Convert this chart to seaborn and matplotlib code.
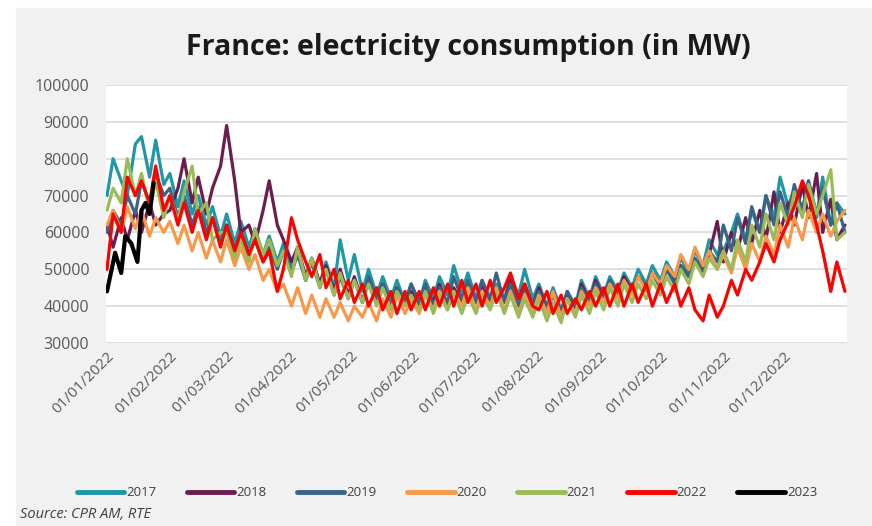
import matplotlib
matplotlib.use("Agg")
import matplotlib.pyplot as plt
import matplotlib.dates as mdates
from matplotlib.patches import Rectangle
from matplotlib.ticker import FuncFormatter, MultipleLocator
import numpy as np
import pandas as pd
import seaborn as sns

sns.set_theme(style="white")
plt.rcParams["font.family"] = ["Open Sans", "DejaVu Sans"]

# --- data: consommation en milliers de MW, 2 points par semaine ---
base = pd.Timestamp("2022-01-01")
jours = [7 * (i // 2) + 3 * (i % 2) for i in range(104)] + [364]

y2017 = [70, 80, 74, 70, 84, 86, 75, 85, 73,
         76, 67, 74, 65, 70, 62, 67, 59,
         65, 57, 63, 56, 61, 54, 59, 52, 57,
         50, 55, 47, 53, 46, 52, 45, 58, 47,
         54, 44, 50, 43, 48, 42, 47, 41, 46,
         41, 47, 42, 48, 43, 51, 44, 49,
         42, 47, 41, 46, 42, 48, 43, 50, 42,
         46, 40, 45, 39, 44, 40, 47, 42, 48,
         43, 48, 44, 49, 45, 50, 46, 51,
         47, 52, 48, 53, 49, 55, 51, 58, 54,
         55, 60, 65, 58, 66, 60, 70, 64,
         75, 67, 72, 66, 74, 64, 75, 62, 68, 65]
y2018 = [62, 56, 64, 58, 66, 60, 68, 62, 65,
         66, 72, 80, 68, 75, 65, 72, 78,
         89, 74, 60, 62, 57, 66, 74, 62, 58,
         52, 56, 48, 53, 46, 51, 44, 50, 43,
         48, 41, 47, 42, 46, 40, 45, 41, 44,
         40, 45, 41, 46, 40, 45, 41, 46,
         41, 46, 40, 45, 41, 47, 42, 46, 40,
         45, 39, 44, 38, 43, 39, 46, 41, 47,
         42, 47, 43, 48, 44, 48, 45, 49,
         46, 50, 47, 51, 48, 52, 49, 54, 63,
         52, 60, 55, 64, 57, 66, 58, 71,
         60, 68, 62, 73, 64, 76, 60, 69, 58, 62]
y2019 = [60, 66, 62, 70, 65, 74, 68, 76, 70,
         72, 64, 70, 62, 67, 60, 64, 57,
         62, 55, 60, 54, 58, 52, 56, 50, 55,
         49, 54, 47, 52, 45, 50, 43, 48, 42,
         47, 41, 48, 42, 46, 40, 45, 41, 46,
         41, 46, 40, 45, 41, 48, 42, 47,
         41, 47, 42, 49, 41, 46, 40, 45, 40,
         44, 39, 43, 38, 44, 40, 45, 41, 46,
         42, 47, 43, 47, 44, 48, 45, 49,
         45, 50, 46, 51, 48, 53, 50, 55, 52,
         62, 55, 64, 57, 67, 60, 70, 62,
         71, 64, 73, 66, 74, 65, 72, 62, 68, 60]
y2020 = [62, 66, 60, 67, 61, 66, 59, 64, 60,
         63, 57, 62, 55, 60, 53, 58, 52,
         58, 51, 56, 50, 54, 47, 50, 44, 46,
         40, 45, 38, 43, 37, 42, 37, 41, 36,
         40, 37, 41, 36, 42, 37, 43, 38, 42,
         38, 43, 39, 44, 39, 44, 40, 45,
         39, 44, 40, 45, 39, 44, 38, 43, 38,
         43, 38, 44, 37, 42, 38, 44, 40, 45,
         41, 46, 42, 47, 43, 48, 44, 49,
         46, 51, 48, 54, 50, 56, 51, 55, 50,
         54, 49, 56, 50, 57, 52, 59, 54,
         62, 56, 64, 58, 66, 60, 65, 59, 63, 66]
y2021 = [66, 72, 68, 80, 70, 76, 66, 74, 64,
         70, 63, 71, 78, 65, 68, 58, 60,
         60, 53, 58, 52, 61, 54, 58, 51, 55,
         48, 56, 47, 53, 45, 50, 43, 49, 42,
         47, 41, 46, 40, 45, 39, 44, 40, 43,
         39, 44, 38, 43, 39, 44, 38, 43,
         38, 43, 39, 44, 38, 43, 37, 42, 37,
         42, 36, 41, 35.5, 42, 37, 43, 38, 44,
         39, 45, 40, 46, 41, 46, 42, 47,
         43, 48, 44, 50, 46, 52, 48, 53, 50,
         55, 50, 58, 52, 62, 56, 65, 58,
         68, 62, 71, 64, 73, 65, 70, 77, 58, 60]
y2022 = [50, 65, 60, 75, 70, 74, 68, 78, 66,
         70, 62, 68, 60, 66, 58, 64, 56,
         62, 55, 60, 54, 58, 52, 55, 44, 50,
         64, 58, 52, 48, 54, 45, 50, 42, 47,
         41, 46, 40, 45, 39, 44, 38, 44, 39,
         44, 39, 45, 40, 46, 40, 47, 41,
         46, 40, 47, 41, 45, 49, 42, 46, 40,
         39, 44, 38, 43, 38, 42, 39, 44, 40,
         45, 40, 46, 40, 46, 41, 46, 40,
         46, 41, 46, 40, 45, 39, 36, 43, 37,
         40, 47, 43, 50, 47, 52, 57, 52,
         58, 63, 67, 74, 70, 62, 55, 44, 52, 44]
jours2023 = [0, 4, 7, 9, 12, 15, 17, 19, 21, 23]
y2023 = [44, 54.5, 49, 59, 57, 52, 66, 68, 65, 73.5]

annees = ["2017", "2018", "2019", "2020", "2021", "2022", "2023"]
couleurs = ["#1f97a7", "#6b1d4d", "#3b6385", "#f7994a", "#9bbb59", "#ff0000", "#000000"]
series = [(jours, y2017), (jours, y2018), (jours, y2019), (jours, y2020),
          (jours, y2021), (jours, y2022), (jours2023, y2023)]

fig = plt.figure(figsize=(8.72, 5.26), dpi=100)
fig.patches.append(Rectangle((16 / 872, 0), 1, 518 / 526, transform=fig.transFigure,
                             color="#f1f1f1", zorder=-1))
ax = fig.add_axes([106 / 872, 1 - 343 / 526, 741 / 872, 258 / 526])
ax.set_facecolor("white")

for annee, col, (j, vals) in zip(annees, couleurs, series):
    dates = base + pd.to_timedelta(j, unit="D")
    lw = 3.0 if annee == "2023" else 2.3
    sns.lineplot(x=dates, y=np.array(vals) * 1000, color=col, lw=lw,
                 label=annee, estimator=None, ax=ax,
                 solid_joinstyle="round", solid_capstyle="round")

ax.set_ylim(30000, 100000)
ax.set_xlim(base - pd.Timedelta(days=0.5), base + pd.Timedelta(days=365))
ax.yaxis.set_major_locator(MultipleLocator(10000))
ax.yaxis.set_major_formatter(FuncFormatter(lambda v, _: f"{int(v)}"))
ax.set_xticks(pd.date_range("2022-01-01", "2022-12-01", freq="MS"))
ax.xaxis.set_major_formatter(mdates.DateFormatter("%d/%m/%Y"))
ax.tick_params(axis="y", labelsize=11.5, labelcolor="#595959", pad=12, length=0)
ax.tick_params(axis="x", labelsize=11, labelcolor="#595959", pad=4, length=0)
plt.setp(ax.get_xticklabels(), rotation=45, ha="right", va="top", rotation_mode="anchor")
ax.yaxis.grid(True, color="#d9d9d9", lw=1.2)
ax.xaxis.grid(False)
for s in ax.spines.values():
    s.set_visible(False)
ax.set_xlabel("")
ax.set_ylabel("")

handles, labels = ax.get_legend_handles_labels()
ax.get_legend().remove()
leg = fig.legend(handles, labels, loc="center", bbox_to_anchor=(447 / 872, 1 - 493 / 526),
                 ncol=7, frameon=False, handlelength=3.6, handletextpad=0.15,
                 columnspacing=2.3, fontsize=9.5)
for line in leg.get_lines():
    line.set_linewidth(3.5)
for t in leg.get_texts():
    t.set_color("#404040")

fig.text(468 / 872, 1 - 48 / 526, "France: electricity consumption (in MW)",
         ha="center", va="center", fontsize=20.5, fontweight="bold", color="#1a1a1a")
fig.text(20 / 872, 1 - 515 / 526, "Source: CPR AM, RTE", ha="left", va="center",
         fontsize=10.5, style="italic", color="#404040")

fig.savefig("out.png", dpi=100)
